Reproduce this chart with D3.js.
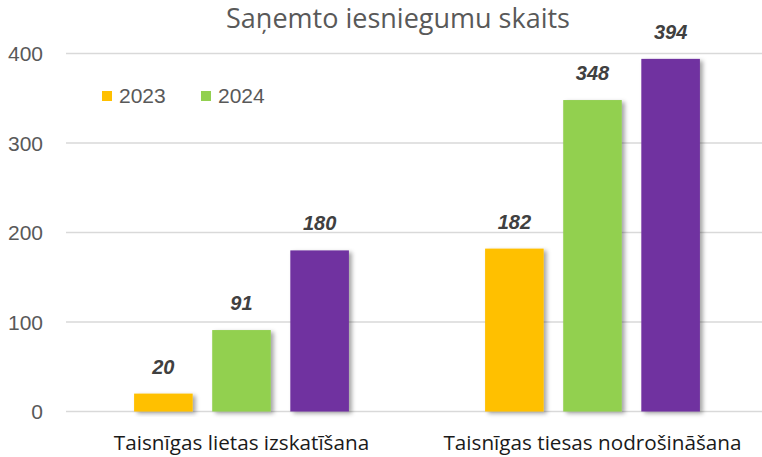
<!DOCTYPE html>
<html>
<head>
<meta charset="utf-8">
<script src="https://cdn.jsdelivr.net/npm/d3@7"></script>
<style>
  body { margin: 0; background: #fff; }
  svg { display: block; }
</style>
</head>
<body>
<svg id="chart" width="762" height="457"></svg>
<script>
// data
const categories = ['Taisnīgas lietas izskatīšana', 'Taisnīgas tiesas nodrošināšana'];
const seriesNames = ['2023', '2024', '2025'];
const legendNames = ['2023', '2024'];
const values2023 = [20, 182];
const values2024 = [91, 348];
const values2025 = [180, 394];
const yTicks = [0, 100, 200, 300, 400];
const title = 'Saņemto iesniegumu skaits';

const colors = ['#FFC000', '#92D050', '#7030A0'];
const seriesValues = [values2023, values2024, values2025];

const svg = d3.select('#chart');
const width = 762, height = 457;

// drop shadow for bars
const defs = svg.append('defs');
const f = defs.append('filter').attr('id', 'shadow')
  .attr('x', '-20%').attr('y', '-20%').attr('width', '150%').attr('height', '150%');
f.append('feDropShadow')
  .attr('dx', 3).attr('dy', 2).attr('stdDeviation', 2.2)
  .attr('flood-color', '#000').attr('flood-opacity', 0.35);

const x0 = d3.scaleBand().domain(categories).range([66, 768])
  .paddingInner(0.388).paddingOuter(0.194);
const x1 = d3.scaleBand().domain(seriesNames).range([0, x0.bandwidth()])
  .paddingInner(0.25).paddingOuter(0);
const y = d3.scaleLinear().domain([0, 400]).range([411.5, 53.5]);

// gridlines
svg.append('g').selectAll('line').data(yTicks).join('line')
  .attr('x1', 66).attr('x2', width)
  .attr('y1', d => y(d)).attr('y2', d => y(d))
  .attr('stroke', '#d9d9d9').attr('stroke-width', 1.5);

// y axis labels
svg.append('g').selectAll('text').data(yTicks).join('text')
  .attr('x', 43).attr('y', d => y(d))
  .attr('dy', '0.36em')
  .attr('text-anchor', 'end')
  .attr('font-family', 'Liberation Sans, Arial, sans-serif')
  .attr('font-size', 21)
  .attr('fill', '#595959')
  .text(d => d);

// title
svg.append('text')
  .attr('x', 398).attr('y', 28)
  .attr('text-anchor', 'middle')
  .attr('font-family', 'Open Sans, sans-serif')
  .attr('font-size', 27)
  .attr('fill', '#595959')
  .text(title);

// bars
const groups = svg.append('g').selectAll('g').data(categories).join('g')
  .attr('transform', d => `translate(${x0(d)},0)`);

groups.each(function (cat, ci) {
  const g = d3.select(this);
  const rows = seriesNames.map((s, si) => ({ s, si, v: seriesValues[si][ci] }));
  g.selectAll('rect').data(rows).join('rect')
    .attr('x', d => x1(d.s))
    .attr('y', d => y(d.v))
    .attr('width', x1.bandwidth())
    .attr('height', d => y(0) - y(d.v))
    .attr('fill', d => colors[d.si])
    .attr('filter', 'url(#shadow)');
  g.selectAll('text.val').data(rows).join('text')
    .attr('class', 'val')
    .attr('x', d => x1(d.s) + x1.bandwidth() / 2)
    .attr('y', d => y(d.v) - 20)
    .attr('text-anchor', 'middle')
    .attr('font-family', 'Liberation Sans, Arial, sans-serif')
    .attr('font-size', 20)
    .attr('font-weight', 'bold')
    .attr('font-style', 'italic')
    .attr('fill', '#404040')
    .text(d => d.v);
});

// category labels
svg.append('g').selectAll('text').data(categories).join('text')
  .attr('x', d => x0(d) + x0.bandwidth() / 2)
  .attr('y', 450)
  .attr('text-anchor', 'middle')
  .attr('font-family', 'Open Sans, sans-serif')
  .attr('font-size', 20.7)
  .attr('fill', '#1a1a1a')
  .text(d => d);

// legend
const legendX = [102, 201];
const legend = svg.append('g').selectAll('g').data(legendNames).join('g')
  .attr('transform', (d, i) => `translate(${legendX[i]},91)`);
legend.append('rect')
  .attr('width', 10).attr('height', 10)
  .attr('fill', (d, i) => colors[i]);
legend.append('text')
  .attr('x', 17).attr('y', 12)
  .attr('font-family', 'Liberation Sans, Arial, sans-serif')
  .attr('font-size', 21)
  .attr('fill', '#595959')
  .text(d => d);
</script>
</body>
</html>
